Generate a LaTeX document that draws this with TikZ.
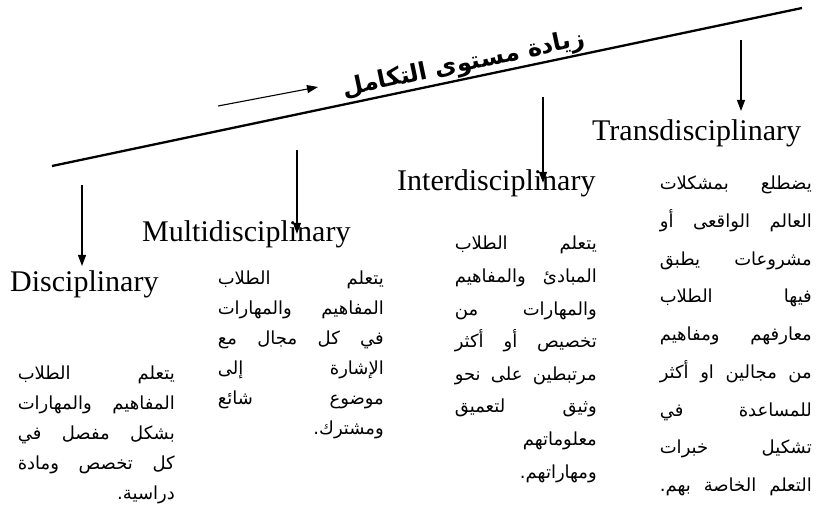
\documentclass[tikz,border=0pt]{standalone}
\usepackage{fontspec}
\setmainfont{Liberation Serif}
\newfontfamily\arabicfont[Script=Arabic]{DejaVu Sans}
\TeXXeTstate=1
\usetikzlibrary{arrows.meta}
% one justified (or right-set) Arabic line
\newcommand\arj[1]{\hbox to \hsize{\beginR #1\endR}}
\newcommand\arr[1]{\hbox to \hsize{\hfill\beginR #1\endR}}

\begin{document}
\begin{tikzpicture}[
        x=1pt, y=-1pt,
        levelname/.style={
            font=\fontsize{30}{36}\selectfont,
            inner sep=0pt,
            anchor=base west
        },
        desc/.style={
            inner sep=0pt,
            anchor=north east
        },
        arrowdown/.style={
            -{Triangle[length=11pt, width=8pt]},
            line width=1.1pt
        }
    ]
        \useasboundingbox (0,0) rectangle (816,516);

        % Main line and title
        \coordinate (lstart) at (52,166);
        \coordinate (lend) at (802,8);
        \draw[line width=2.3pt] (lstart) -- node[pos=0.553, sloped, above, inner sep=1pt,
            font=\arabicfont\bfseries\fontsize{24}{28}\selectfont] (title)
            {\beginR زيادة مستوى التكامل\endR} (lend);
        \coordinate (incA) at (218,106);
        \coordinate (incB) at (318,87);
        \draw[arrowdown] (incA) -- (incB);

        % Levels
        \node[levelname] (disc) at (10,291) {Disciplinary};
        \node[levelname] (multi) at (142,241) {Multidisciplinary};
        \node[levelname] (inter) at (397,190) {Interdisciplinary};
        \node[levelname] (trans) at (592,140) {Transdisciplinary};

        % Arrows down to the levels
        \coordinate (dtop) at (82,185);
        \coordinate (mtop) at (297,150);
        \coordinate (itop) at (543,97);
        \coordinate (ttop) at (741,40);
        \draw[arrowdown, shorten >=4pt] (dtop) -- (dtop |- disc.north);
        \draw[arrowdown] (mtop) -- (mtop |- multi.center);
        \draw[arrowdown] (itop) -- (itop |- inter.center);
        \draw[arrowdown, shorten >=8pt] (ttop) -- (ttop |- trans.north);

        % Descriptions
        \node[desc, font=\arabicfont\fontsize{18}{30}\selectfont] (disctext) at (175,366)
            {\vbox{\hsize=157pt
            \arj{يتعلم الطلاب}
            \arj{المفاهيم والمهارات}
            \arj{بشكل مفصل في}
            \arj{كل تخصص ومادة}
            \arr{دراسية.}}};
        \node[desc, font=\arabicfont\fontsize{18}{30}\selectfont] (multitext) at (384,271)
            {\vbox{\hsize=166pt
            \arj{يتعلم الطلاب}
            \arj{المفاهيم والمهارات}
            \arj{في كل مجال مع}
            \arj{الإشارة إلى}
            \arj{موضوع شائع}
            \arr{ومشترك.}}};
        \node[desc, font=\arabicfont\fontsize{18}{32.6}\selectfont] (intertext) at (597,236)
            {\vbox{\hsize=142pt
            \arj{يتعلم الطلاب}
            \arj{المبادئ والمفاهيم}
            \arj{والمهارات من}
            \arj{تخصيص أو أكثر}
            \arj{مرتبطين على نحو}
            \arj{وثيق لتعميق}
            \arr{معلوماتهم}
            \arr{ومهاراتهم.}}};
        \node[desc, font=\arabicfont\fontsize{18}{37.7}\selectfont] (transtext) at (812,176)
            {\vbox{\hsize=152pt
            \arj{يضطلع بمشكلات}
            \arj{العالم الواقعى أو}
            \arj{مشروعات يطبق}
            \arj{فيها الطلاب}
            \arj{معارفهم ومفاهيم}
            \arj{من مجالين او أكثر}
            \arj{للمساعدة في}
            \arj{تشكيل خبرات}
            \arj{التعلم الخاصة بهم.}}};
    \end{tikzpicture}
\end{document}
